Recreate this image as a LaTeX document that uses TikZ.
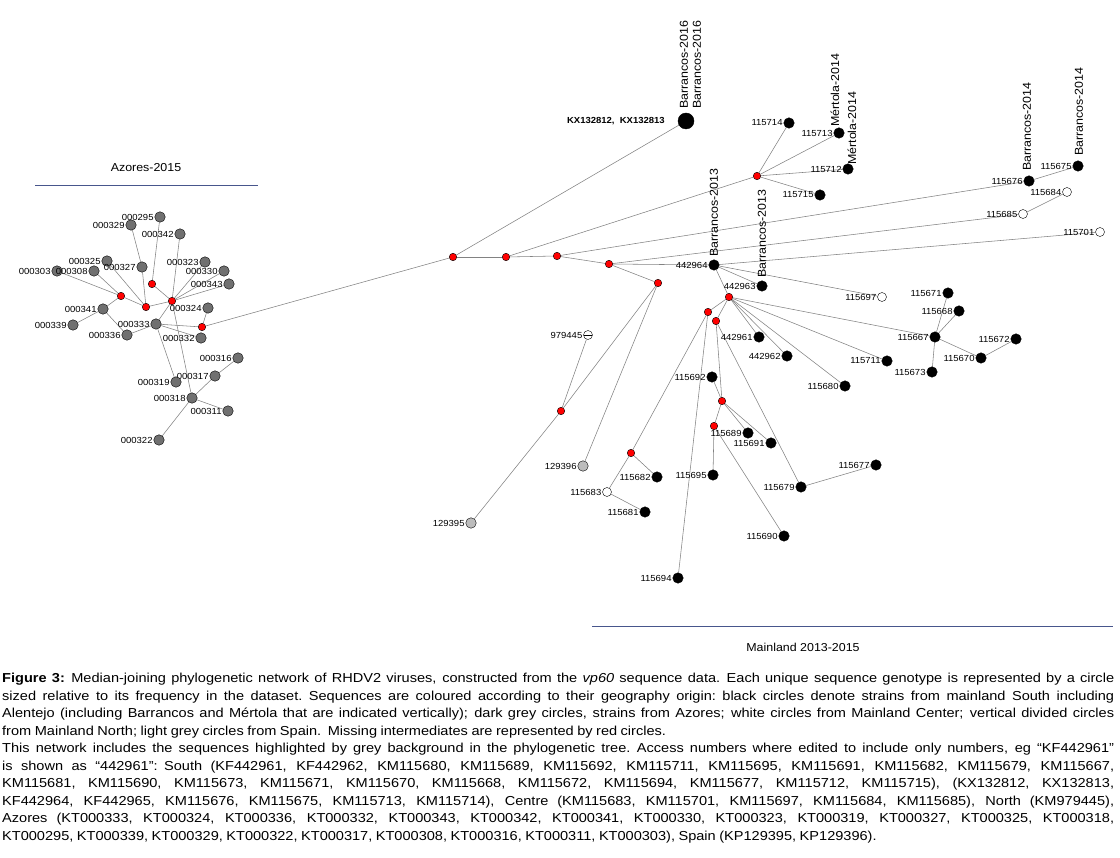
\documentclass[tikz,border=0pt]{standalone}
\usepackage{fontspec}
\setmainfont{Liberation Sans}[FakeStretch=1.08]
\newfontfamily\capfont{Liberation Sans}[FakeStretch=1.12]
\usetikzlibrary{backgrounds}
\definecolor{azgrey}{RGB}{112,112,112}
\definecolor{spgrey}{RGB}{188,188,188}
\definecolor{edgegrey}{RGB}{130,130,130}
\definecolor{rulecol}{RGB}{72,86,140}
\newcommand{\labsize}{\fontsize{8.8}{9}\selectfont}
\newcommand{\capline}[1]{\noindent\hbox to 1112pt{\spaceskip=0.25em plus 1fil minus 0.09em\relax #1}\par}
\newcommand{\capend}[1]{\noindent\hbox{\spaceskip=0.27em\relax #1}\par}

\tikzset{
  seq/.style={circle,draw=black,line width=0.4pt,inner sep=0pt,minimum size=10.5pt},
  south/.style={seq,fill=black},
  azores/.style={seq,fill=azgrey},
  centre/.style={seq,fill=white,minimum size=9pt},
  spain/.style={seq,fill=spgrey},
  mainnorth/.style={centre,path picture={\draw (path picture bounding box.west) -- (path picture bounding box.east);}},
  median/.style={circle,draw=black,fill=red,line width=0.4pt,inner sep=0pt,minimum size=7.5pt},
  lab/.style={font=\labsize,inner sep=0.8pt},
  rotlab/.style={rotate=90,anchor=west,font=\fontsize{11.5}{12}\selectfont,inner sep=0pt},
  link/.style={draw=edgegrey,line width=0.55pt},
}

\begin{document}
\begin{tikzpicture}[x=1pt,y=-1pt]
\useasboundingbox (0,0) rectangle (1120,858);

% region rules and titles
\draw[rulecol,line width=0.8pt] (35,185) -- (258,185);
\node[font=\fontsize{11.5}{12}\selectfont] (azlab) at (146,168) {Azores-2015};
\draw[rulecol,line width=0.8pt] (592,626) -- (1113,626);
\node[font=\fontsize{11.5}{12}\selectfont] (mainlab) at (803,647) {Mainland 2013-2015};

% median vectors, centre
\node[median] (r1) at (453,257) {};
\node[median] (r2) at (506,257) {};
\node[median] (r3) at (557,256) {};
\node[median] (r4) at (609,264) {};
\node[median] (r5) at (658,283) {};
\node[median] (r6) at (729,297) {};
\node[median] (r7) at (708,312) {};
\node[median] (r8) at (716,321) {};
\node[median] (r9) at (757,176) {};
\node[median] (r10) at (561,411) {};
\node[median] (r11) at (631,453) {};
\node[median] (r12) at (722,401) {};
\node[median] (r13) at (714,426) {};

% Barrancos 2016
\node[south,minimum size=16pt] (kx) at (686,121) {};
\node[font=\bfseries\labsize,anchor=east,inner sep=0pt] (kxlab) at (665,121) {KX132812,\ \ KX132813};
\node[rotlab] (b16a) at (684,109) {Barrancos-2016};
\node[rotlab] (b16b) at (697,109) {Barrancos-2016};

% Mertola
\node[south,label={[lab]left:115714}] (n115714) at (789,123) {};
\node[south,label={[lab]left:115713}] (n115713) at (839,133) {};
\node[south,label={[lab]left:115712}] (n115712) at (848,169) {};
\node[south,label={[lab]left:115715}] (n115715) at (820,195) {};
\node[rotlab] (mer1) at (835,127) {Mértola-2014};
\node[rotlab] (mer2) at (852,165) {Mértola-2014};

% Barrancos 2014 and centre
\node[south,label={[lab]left:115676}] (n115676) at (1029,181) {};
\node[south,label={[lab]left:115675}] (n115675) at (1078,166) {};
\node[centre,label={[lab]left:115684}] (n115684) at (1067,192) {};
\node[centre,label={[lab]left:115685}] (n115685) at (1023,214) {};
\node[centre,label={[lab]left:115701}] (n115701) at (1100,232) {};
\node[rotlab] (b14a) at (1027,171) {Barrancos-2014};
\node[rotlab] (b14b) at (1079,156) {Barrancos-2014};

% Barrancos 2013
\node[south,label={[lab]left:442964}] (n442964) at (714,265) {};
\node[south,label={[lab]left:442963}] (n442963) at (762,286) {};
\node[rotlab] (b13a) at (714,257) {Barrancos-2013};
\node[rotlab] (b13b) at (762,278) {Barrancos-2013};
\node[centre,label={[lab]left:115697}] (n115697) at (882,297) {};

% south cluster
\node[south,label={[lab]left:442961}] (n442961) at (759,337) {};
\node[south,label={[lab]left:442962}] (n442962) at (787,356) {};
\node[south,label={[lab]left:115680}] (n115680) at (845,386) {};
\node[south,label={[lab]left:115711}] (n115711) at (887,361) {};
\node[south,label={[lab]left:115667}] (n115667) at (935,337) {};
\node[south,label={[lab]left:115671}] (n115671) at (948,293) {};
\node[south,label={[lab]left:115668}] (n115668) at (959,311) {};
\node[south,label={[lab]left:115673}] (n115673) at (932,372) {};
\node[south,label={[lab]left:115670}] (n115670) at (981,358) {};
\node[south,label={[lab]left:115672}] (n115672) at (1016,339) {};
\node[south,label={[lab]left:115692}] (n115692) at (712,377) {};
\node[south,label={[lab]left:115689}] (n115689) at (748,433) {};
\node[south,label={[lab]left:115691}] (n115691) at (771,443) {};
\node[south,label={[lab]left:115695}] (n115695) at (713,475) {};
\node[south,label={[lab]left:115679}] (n115679) at (801,487) {};
\node[south,label={[lab]left:115677}] (n115677) at (876,465) {};
\node[south,label={[lab]left:115690}] (n115690) at (784,536) {};
\node[south,label={[lab]left:115694}] (n115694) at (678,578) {};
\node[south,label={[lab]left:115682}] (n115682) at (657,477) {};
\node[centre,label={[lab]left:115683}] (n115683) at (607,492) {};
\node[south,label={[lab]left:115681}] (n115681) at (645,512) {};

% north and spain
\node[mainnorth,label={[lab]left:979445}] (n979445) at (588,335) {};
\node[spain,label={[lab]left:129396}] (n129396) at (583,466) {};
\node[spain,label={[lab]left:129395}] (n129395) at (471,523) {};

% azores
\node[median] (a1) at (121,296) {};
\node[median] (a2) at (146,307) {};
\node[median] (a3) at (152,284) {};
\node[median] (a4) at (172,301) {};
\node[median] (a5) at (202,327) {};
\node[azores,label={[lab]left:000295}] (z295) at (160,217) {};
\node[azores,label={[lab]left:000329}] (z329) at (131,225) {};
\node[azores,label={[lab]left:000342}] (z342) at (180,234) {};
\node[azores,label={[lab]left:000325}] (z325) at (107,261) {};
\node[azores,label={[lab]left:000303}] (z303) at (57,271) {};
\node[azores,label={[lab]left:000308}] (z308) at (94,271) {};
\node[azores,label={[lab]left:000327}] (z327) at (142,267) {};
\node[azores,label={[lab]left:000323}] (z323) at (205,262) {};
\node[azores,label={[lab]left:000330}] (z330) at (224,271) {};
\node[azores,label={[lab]left:000343}] (z343) at (229,284) {};
\node[azores,label={[lab]left:000324}] (z324) at (208,308) {};
\node[azores,label={[lab]left:000341}] (z341) at (103,309) {};
\node[azores,label={[lab]left:000339}] (z339) at (73,325) {};
\node[azores,label={[lab]left:000333}] (z333) at (156,324) {};
\node[azores,label={[lab]left:000336}] (z336) at (127,335) {};
\node[azores,label={[lab]left:000332}] (z332) at (201,338) {};
\node[azores,label={[lab]left:000316}] (z316) at (238,358) {};
\node[azores,label={[lab]left:000317}] (z317) at (215,376) {};
\node[azores,label={[lab]left:000319}] (z319) at (176,382) {};
\node[azores,label={[lab]left:000318}] (z318) at (192,398) {};
\node[azores,label={[lab]left:000311}] (z311) at (228,411) {};
\node[azores,label={[lab]left:000322}] (z322) at (159,440) {};

\begin{scope}[on background layer]
\path[link]
  (a5) edge (r1) (r1) edge (kx) (r1) edge (r2) (r2) edge (r3) (r3) edge (r4)
  (r4) edge (n442964) (r4) edge (r5) (r2) edge (r9)
  (r9) edge (n115714) (r9) edge (n115713) (r9) edge (n115712) (r9) edge (n115715)
  (r3) edge (n115676) (n115676) edge (n115675)
  (r4) edge (n115685) (n115685) edge (n115684)
  (n442964) edge (n115701) (n442964) edge (n115697) (n442964) edge (n442963) (n442964) edge (r6)
  (r6) edge (r7) (r6) edge (r8)
  (r6) edge (n442961) (r6) edge (n442962) (r6) edge (n115680) (r6) edge (n115711) (r6) edge (n115667)
  (n115667) edge (n115671) (n115667) edge (n115668) (n115667) edge (n115673) (n115667) edge (n115670)
  (n115670) edge (n115672)
  (r5) edge (r10) (r5) edge (n129396) (r10) edge (n129395) (r10) edge (n979445)
  (r7) edge (r11) (r7) edge (n115694)
  (r11) edge (n115682) (r11) edge (n115683) (n115683) edge (n115681)
  (r8) edge (r12) (r8) edge (n115679) (n115692) edge (r12)
  (r12) edge (r13) (r12) edge (n115691) (r12) edge (n115689)
  (r13) edge (n115695) (r13) edge (n115690) (n115679) edge (n115677)
  % azores
  (z303) edge (a1) (z308) edge (a1) (z325) edge (a2) (z327) edge (a2)
  (z329) edge (z327) (z295) edge (a3) (z342) edge (a4) (a3) edge (a4)
  (a1) edge (a2) (a1) edge (z341) (z341) edge (z339) (z341) edge (z336)
  (z336) edge (z333) (a2) edge (a4)
  (a4) edge (z323) (a4) edge (z330) (a4) edge (z343) (a4) edge (z333) (a4) edge (z318)
  (z333) edge (z319) (z333) edge (a5) (z333) edge (z332) (z324) edge (a5)
  (z318) edge (z317) (z317) edge (z316) (z318) edge (z311) (z318) edge (z322);
\end{scope}

% caption
\node[anchor=north west,text width=1112pt,align=left,inner sep=0pt,
      font=\capfont\fontsize{13}{17.5}\selectfont] (caption) at (2,673) {%
\capline{\textbf{Figure 3:} Median-joining phylogenetic network of RHDV2 viruses, constructed from the \textit{vp60} sequence data. Each unique sequence genotype is represented by a circle}
\capline{sized relative to its frequency in the dataset. Sequences are coloured according to their geography origin: black circles denote strains from mainland South including}
\capline{Alentejo (including Barrancos and Mértola that are indicated vertically); dark grey circles, strains from Azores; white circles from Mainland Center; vertical divided circles}
\capend{from Mainland North; light grey circles from Spain. Missing intermediates are represented by red circles.}
\capline{This network includes the sequences highlighted by grey background in the phylogenetic tree. Access numbers where edited to include only numbers, eg “KF442961”}
\capline{is shown as “442961”: South (KF442961, KF442962, KM115680, KM115689, KM115692, KM115711, KM115695, KM115691, KM115682, KM115679, KM115667,}
\capline{KM115681, KM115690, KM115673, KM115671, KM115670, KM115668, KM115672, KM115694, KM115677, KM115712, KM115715), (KX132812, KX132813,}
\capline{KF442964, KF442965, KM115676, KM115675, KM115713, KM115714), Centre (KM115683, KM115701, KM115697, KM115684, KM115685), North (KM979445),}
\capline{Azores (KT000333, KT000324, KT000336, KT000332, KT000343, KT000342, KT000341, KT000330, KT000323, KT000319, KT000327, KT000325, KT000318,}
\capend{KT000295, KT000339, KT000329, KT000322, KT000317, KT000308, KT000316, KT000311, KT000303), Spain (KP129395, KP129396).}};
\end{tikzpicture}
\end{document}
